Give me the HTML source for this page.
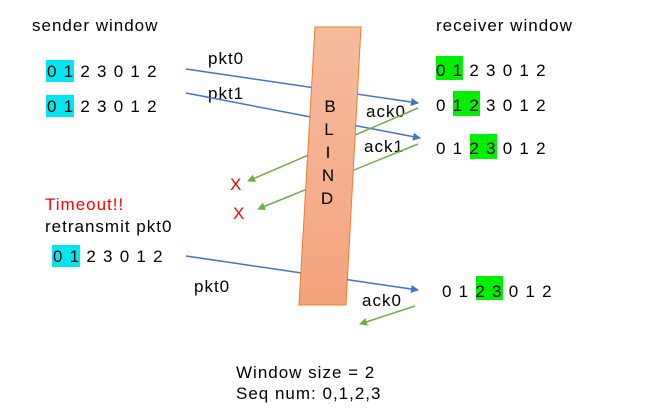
<!DOCTYPE html>
<html><head><style>body{margin:0;background:#fff}svg{display:block}</style></head><body>
<svg width="648" height="415" xmlns="http://www.w3.org/2000/svg" font-family="Liberation Sans, sans-serif" font-size="17" letter-spacing="1">
<defs>
<marker id="ab" markerWidth="8" markerHeight="8" refX="7" refY="4" orient="auto" markerUnits="userSpaceOnUse"><path d="M0,0 L8,4 L0,8 z" fill="#4472c4"/></marker>
<marker id="ag" markerWidth="8" markerHeight="8" refX="7" refY="4" orient="auto" markerUnits="userSpaceOnUse"><path d="M0,0 L8,4 L0,8 z" fill="#70ad47"/></marker>
<linearGradient id="g" x1="0" y1="0" x2="0" y2="1"><stop offset="0" stop-color="#f6bca0"/><stop offset="1" stop-color="#f4a47c"/></linearGradient>
</defs>
<rect x="46" y="60" width="28" height="22" fill="#00e5ee"/>
<rect x="46" y="95" width="28" height="22" fill="#00e5ee"/>
<rect x="52" y="245" width="28" height="22" fill="#00e5ee"/>
<rect x="436" y="56" width="27" height="24" fill="#00ee00"/>
<rect x="453" y="91" width="27" height="25" fill="#00ee00"/>
<rect x="470" y="134" width="27" height="25" fill="#00ee00"/>
<rect x="476" y="276" width="27" height="24" fill="#00ee00"/>
<g fill="#000">
<text x="32" y="31">sender window</text>
<text x="436" y="31">receiver window</text>
<g letter-spacing="1.25">
<text x="47" y="77">0 1 2 3 0 1 2</text>
<text x="47" y="112">0 1 2 3 0 1 2</text>
<text x="53" y="262">0 1 2 3 0 1 2</text>
<text x="436" y="76">0 1 2 3 0 1 2</text>
<text x="436" y="111">0 1 2 3 0 1 2</text>
<text x="436" y="154">0 1 2 3 0 1 2</text>
<text x="442" y="297">0 1 2 3 0 1 2</text>
</g>
<text x="208" y="64">pkt0</text>
<text x="208" y="99">pkt1</text>
<text x="194" y="292">pkt0</text>
<text x="366" y="117">ack0</text>
<text x="364" y="152">ack1</text>
<text x="362" y="306">ack0</text>
<text x="45" y="232">retransmit pkt0</text>
<text x="236" y="378">Window size = 2</text>
<text x="236" y="399">Seq num: 0,1,2,3</text>
</g>
<text x="45" y="210" fill="#ff0000">Timeout!!</text>
<text x="230" y="190" fill="#ff0000">X</text>
<text x="233" y="219" fill="#ff0000">X</text>
<g stroke="#4472c4" stroke-width="1.5" fill="none">
<line x1="186" y1="69" x2="418" y2="103" marker-end="url(#ab)"/>
<line x1="186" y1="93" x2="420" y2="138" marker-end="url(#ab)"/>
<line x1="186" y1="256" x2="418" y2="290" marker-end="url(#ab)"/>
</g>
<g stroke="#70ad47" stroke-width="1.5" fill="none">
<line x1="418" y1="108" x2="248" y2="181" marker-end="url(#ag)"/>
<line x1="418" y1="144" x2="258" y2="209" marker-end="url(#ag)"/>
<line x1="415" y1="306" x2="360" y2="324" marker-end="url(#ag)"/>
</g>
<polygon points="315,27 361,27 346,305 299,305" fill="url(#g)" stroke="#ed7d31" stroke-width="1"/>
<g text-anchor="middle" fill="#000" font-size="17" letter-spacing="0">
<text x="330" y="112">B</text><text x="329" y="135">L</text><text x="328" y="158">I</text><text x="328" y="181">N</text><text x="327" y="204">D</text>
</g>
</svg>
</body></html>
